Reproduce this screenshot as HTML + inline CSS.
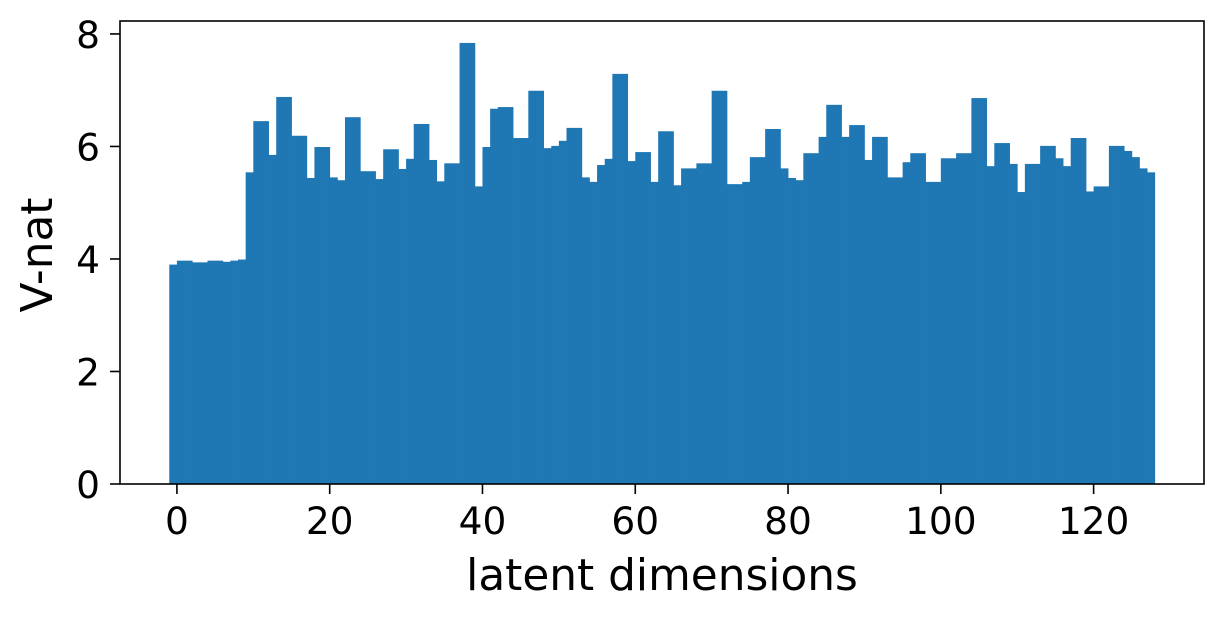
<!DOCTYPE html>
<html><head><meta charset="utf-8"><style>
body{margin:0;background:#fff;}
svg text{font-family:"DejaVu Sans","Liberation Sans",sans-serif;fill:#000;}
</style></head><body>
<svg id="chart" width="1225" height="618" xmlns="http://www.w3.org/2000/svg">
<g id="bars"></g>
<g id="axes"></g>
</svg>
<script>
const values = [3.90,3.97,3.97,3.94,3.94,3.97,3.97,3.95,3.97,3.99,5.54,6.45,6.45,5.85,6.88,6.88,6.19,6.19,5.44,5.99,5.99,5.45,5.40,6.52,6.52,5.56,5.56,5.42,5.95,5.95,5.60,5.78,6.40,6.40,5.76,5.38,5.70,5.70,7.84,7.84,5.29,5.99,6.67,6.70,6.70,6.15,6.15,6.99,6.99,5.97,6.01,6.10,6.33,6.33,5.45,5.37,5.67,5.78,7.29,7.29,5.74,5.90,5.90,5.37,6.27,6.27,5.31,5.61,5.61,5.70,5.70,6.99,6.99,5.33,5.33,5.37,5.81,5.81,6.31,6.31,5.61,5.44,5.40,5.88,5.88,6.17,6.74,6.74,6.17,6.38,6.38,5.76,6.17,6.17,5.45,5.45,5.72,5.88,5.88,5.37,5.37,5.79,5.79,5.88,5.88,6.86,6.86,5.65,6.06,6.06,5.69,5.19,5.69,5.69,6.01,6.01,5.79,5.65,6.15,6.15,5.20,5.29,5.29,6.01,6.01,5.92,5.81,5.61,5.54];
const xTicks = [0,20,40,60,80,100,120];
const yTicks = [0,2,4,6,8];
const L=120,R=1204,T=21,B=484;
const xMin=-7.45,xMax=134.45,yMin=0,yMax=8.23;
const X=v=>L+(v-xMin)/(xMax-xMin)*(R-L);
const Y=v=>B-(v-yMin)/(yMax-yMin)*(B-T);
const NS="http://www.w3.org/2000/svg";
const bars=document.getElementById('bars');
values.forEach((v,i)=>{
  const r=document.createElementNS(NS,'rect');
  const x0=X(i-1),x1=X(i);
  r.setAttribute('x',x0);r.setAttribute('width',x1-x0+0.4);
  r.setAttribute('y',Y(v));r.setAttribute('height',Y(0)-Y(v));
  r.setAttribute('fill','#1f77b4');
  
  
  bars.appendChild(r);
});
const ax=document.getElementById('axes');
const fr=document.createElementNS(NS,'rect');
fr.setAttribute('x',L);fr.setAttribute('y',T);fr.setAttribute('width',R-L);fr.setAttribute('height',B-T);
fr.setAttribute('fill','none');fr.setAttribute('stroke','#000');fr.setAttribute('stroke-width','1.6');


ax.appendChild(fr);
xTicks.forEach(t=>{
  const l=document.createElementNS(NS,'line');
  l.setAttribute('x1',X(t));l.setAttribute('x2',X(t));l.setAttribute('y1',B);l.setAttribute('y2',B+10);
  l.setAttribute('stroke','#000');l.setAttribute('stroke-width','1.6');
  
  
  ax.appendChild(l);
  const tx=document.createElementNS(NS,'text');
  tx.setAttribute('x',X(t));tx.setAttribute('y',534);tx.setAttribute('text-anchor','middle');tx.setAttribute('font-size','37.5');
  tx.textContent=t;
  
  
  ax.appendChild(tx);
});
yTicks.forEach(t=>{
  const l=document.createElementNS(NS,'line');
  l.setAttribute('x1',L-10);l.setAttribute('x2',L);l.setAttribute('y1',Y(t));l.setAttribute('y2',Y(t));
  l.setAttribute('stroke','#000');l.setAttribute('stroke-width','1.6');
  
  
  ax.appendChild(l);
  const tx=document.createElementNS(NS,'text');
  tx.setAttribute('x',L-20);tx.setAttribute('y',Y(t)+14);tx.setAttribute('text-anchor','end');tx.setAttribute('font-size','37.5');
  tx.textContent=t;
  
  
  ax.appendChild(tx);
});
</script>
<svg style="position:absolute;left:0;top:0" width="1225" height="618" xmlns="http://www.w3.org/2000/svg">
<text x="662" y="590" text-anchor="middle" font-size="43.8">latent dimensions</text>
<text x="0" y="0" transform="translate(52,255) rotate(-90)" text-anchor="middle" font-size="43.8">V-nat</text>
</svg>
</body></html>
